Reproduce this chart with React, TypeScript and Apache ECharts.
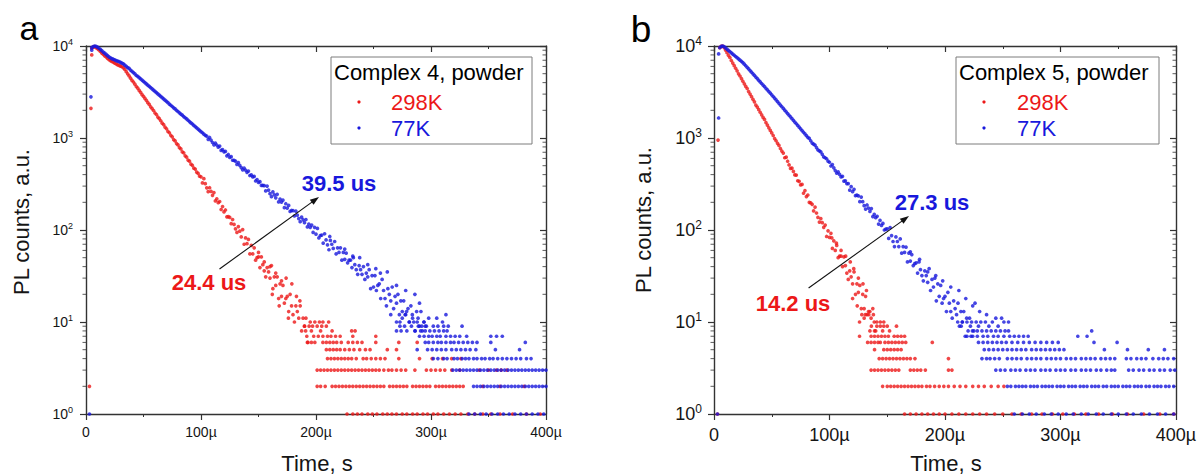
import React, { useEffect, useRef } from "react";
import * as echarts from "echarts";

// ---------------- data ----------------
// decay arrays: counts in consecutive 1.25 µs bins starting at T0 µs
const T0 = 5;
const STEP = 1.25;

const xTickValues = [0, 100, 200, 300, 400];
const yTickExps = [0, 1, 2, 3, 4];
const minorLogTicks = [
  2, 3, 4, 5, 6, 7, 8, 9, 20, 30, 40, 50, 60, 70, 80, 90, 200, 300, 400, 500, 600, 700, 800, 900,
  2000, 3000, 4000, 5000, 6000, 7000, 8000, 9000,
];

const panelLetters = ["a", "b"];
const legendTitles = ["Complex 4, powder", "Complex 5, powder"];
const seriesNames = ["298K", "77K"];
const redLifetimes = ["24.4 us", "14.2 us"];
const blueLifetimes = ["39.5 us", "27.3 us"];

// Complex 4, 298K
const redA = [
  9450, 9700, 9820, 9600, 9330, 9050, 8720, 8380, 8120, 7830, 7620, 7330, 7120, 6950, 6790, 6660, 6510, 6370, 6240, 6170,
  6030, 5950, 5790, 5560, 5260, 4980, 4730, 4470, 4230, 4060, 3850, 3630, 3480, 3290, 3140, 2960, 2840, 2690, 2570, 2420,
  2320, 2180, 2090, 1990, 1870, 1800, 1690, 1620, 1540, 1450, 1400, 1310, 1260, 1180, 1140, 1070, 1030, 960, 930, 870,
  840, 785, 760, 705, 690, 640, 620, 575, 560, 520, 505, 470, 460, 425, 412, 385,
  378, 325, 361, 319, 287, 261, 288, 263, 238, 255, 207, 218, 198, 204, 167, 180, 157, 165, 139, 140,
  137, 117, 130, 115, 103, 94, 109, 97, 84, 101, 70, 82, 71, 79, 55, 68, 55, 64, 47, 50,
  51, 39, 51, 42, 36, 31, 39, 35, 30, 41, 23, 31, 25, 31, 18, 26, 19, 25, 16, 18,
  19, 13, 20, 15, 12, 10, 15, 13, 11, 15, 8, 11, 9, 11, 6,
];
// Complex 4, 77K
const blueA = [
  9600, 9850, 10000, 9900, 9700, 9450, 9200, 8900, 8600, 8350, 8100, 7850, 7600, 7450, 7300, 7180, 7050, 6950, 6850, 6750,
  6650, 6520, 6400,
  6200, 6010, 5830, 5700, 5470, 5300, 5140, 4980, 4780, 4680, 4530, 4390, 4260, 4120, 4000, 3870, 3750, 3640, 3530, 3420,
  3310, 3210, 3110, 3010, 2920, 2830, 2740, 2660, 2580, 2500, 2420, 2340, 2270, 2200, 2130, 2070, 2000, 1940, 1880, 1820,
  1770, 1710, 1660, 1610, 1560, 1510, 1460, 1420, 1370, 1330, 1290, 1250, 1210, 1170, 1140, 1100, 1070,
  1050, 967, 1013, 948, 893, 844, 882, 839, 795, 818, 733, 747, 708, 714, 640, 662, 615, 627, 573, 570,
  561, 516, 540, 505, 477, 451, 471, 448, 424, 437, 391, 398, 377, 382, 341, 353, 329, 335, 305, 305,
  303, 266, 300, 271, 248, 230, 259, 241, 224, 244, 202, 217, 201, 211, 175, 193, 173, 185, 159, 163,
  162, 142, 160, 145, 133, 123, 138, 129, 120, 130, 108, 116, 107, 113, 94, 107, 90, 104, 82, 87,
  88, 72, 91, 78, 69, 61, 77, 70, 63, 75, 55, 64, 57, 64, 47, 57, 48, 56, 44, 47,
  47, 39, 50, 42, 37, 33, 41, 37, 33, 40, 29, 34, 31, 37, 23, 32, 24, 32, 22, 25,
  26, 18, 29, 22, 18, 15, 23, 20, 17, 24, 14, 19, 16, 20, 12, 17, 13, 17, 12, 13,
  14, 10, 15, 12, 10, 8, 13, 11, 9, 13, 8, 10, 9,
];
// Complex 5, 298K
const redB = [
  9600, 9900, 10000, 9620, 9020, 8450, 7920, 7500, 6960, 6520, 6110, 5730, 5370, 4980, 4720, 4420, 4140, 3880, 3640, 3450,
  3200, 3000, 2810, 2630, 2470, 2280, 2170, 2030, 1905, 1785, 1675, 1590, 1470, 1380, 1290, 1210, 1135, 1064, 985, 934,
  876, 830, 769, 721,
  685, 610, 619, 559, 510, 467, 471, 433, 397, 395, 343, 338, 309, 313, 251, 268, 231, 240, 200, 197,
  190, 161, 177, 153, 137, 122, 133, 120, 107, 113, 85, 98, 83, 92, 63, 76, 60, 68, 50, 52,
  52, 40, 51, 41, 34, 29, 36, 31, 26, 35, 20, 26, 21, 25, 14, 20, 14, 19, 12, 13,
  13, 9, 14, 10, 8,
];
// Complex 5, 77K
const blueB = [
  9600, 9900, 10000, 9820, 9520, 9240, 8960, 8690, 8430, 8180, 7930, 7690, 7460, 7240, 7020, 6810, 6610,
  6350, 6100, 5860, 5630, 5400, 5190, 4980, 4790, 4600, 4420, 4240, 4070, 3910, 3760, 3610, 3470, 3330, 3200, 3075,
  2947, 2824, 2706, 2593, 2485, 2382, 2282, 2187, 2096, 2009, 1925, 1845, 1768, 1694, 1623, 1556, 1491, 1429, 1369, 1312,
  1257, 1205, 1155, 1107, 1060, 1016, 990, 933, 880, 857, 835, 787, 742, 723, 705, 664, 622, 610, 595, 560,
  545, 496, 514, 474, 443, 414, 428, 402, 377, 383, 339, 342, 320, 320, 271, 296, 261, 277, 236, 239,
  235, 203, 228, 203, 184, 169, 187, 173, 159, 171, 140, 148, 136, 141, 116, 127, 112, 118, 100, 102,
  103, 81, 106, 87, 75, 66, 84, 75, 66, 80, 56, 66, 57, 65, 45, 56, 46, 54, 41, 43,
  44, 34, 45, 37, 32, 28, 36, 32, 27, 38, 22, 29, 24, 30, 17, 26, 19, 25, 16, 18,
  19, 13, 21, 16, 13, 11, 17, 14, 12, 16, 9, 13, 10, 13, 7, 11, 8, 11, 7, 8, 8,
];

// isolated points [time µs, counts]
const redAExtra = [
  [5, 8000], [4.3, 2100], [150, 57], [155, 45], [160, 40], [165, 34], [170, 28], [174, 30], [179, 26], [183, 19],
  [186, 17], [162, 20], [168, 15], [176, 11],
];
const blueAExtra = [
  [5, 9000], [4.3, 2800], [212, 85], [225, 62], [232, 52], [238, 50], [245, 42], [252, 38], [256, 34], [262, 35],
  [270, 25], [278, 22], [286, 20], [290, 16], [265, 12], [275, 11],
];
const redBExtra = [
  [3.5, 950], [102, 82], [106, 72], [110, 60], [114, 52], [118, 45], [121, 38], [125, 30], [129, 26], [132, 22],
  [120, 18], [124, 15],
];
const blueBExtra = [
  [4, 8200], [4, 1650], [170, 58], [178, 48], [185, 35], [192, 32], [198, 28], [205, 24], [212, 22], [218, 18],
  [224, 15], [226, 16], [230, 13], [236, 12], [244, 11], [249, 11],
];

// low-count tails: [counts level, times µs]
const redATail: [number, number[]][] = [
  [10, [195, 199, 203, 206, 211]],
  [9, [190, 194, 197, 201, 205, 209]],
  [8, [191, 196, 204, 214, 231, 234]],
  [7, [192, 198, 202, 206, 210, 213, 217, 221, 232, 252]],
  [6, [193, 196, 199, 206, 209, 212, 215, 218, 222, 228, 232, 236, 240, 252, 272, 288]],
  [5, [209, 212, 215, 218, 221, 225, 229, 233, 238, 243, 247, 262, 270]],
  [4, [210, 213, 216, 219, 222, 225, 228, 231, 235, 241, 244, 248, 252, 256, 260, 272, 290, 301, 310, 318, 326]],
  [3, [201, 204, 207, 210, 213, 216, 219, 222, 225, 228, 231, 234, 237, 240, 243, 246, 249, 252, 255, 259, 263, 266, 270,
    274, 278, 286, 296, 300, 304, 308, 312, 318, 325, 342, 350, 357, 361, 366]],
  [2, [3, 201, 204, 208, 214, 217, 220, 223, 226, 229, 232, 235, 238, 241, 244, 247, 250, 253, 256, 259, 264, 267, 270, 273,
    276, 279, 284, 287, 290, 293, 296, 299, 304, 307, 310, 313, 316, 319, 322, 325, 328, 345, 360, 381]],
  [1, [227, 232, 236, 240, 245, 249, 253, 258, 262, 266, 270, 275, 279, 284, 288, 293, 297, 302, 306, 311, 316, 321, 326,
    332, 338, 345, 352, 360, 371, 383, 395]],
];
const blueATail: [number, number[]][] = [
  [12, [278, 313]],
  [11, [284, 298, 305]],
  [10, [270, 273, 281, 288, 294, 310]],
  [9, [273, 277, 283, 289, 292, 296, 302, 306, 311, 315, 327]],
  [8, [270, 274, 279, 286, 291, 295, 299, 303, 307, 311, 314]],
  [7, [290, 294, 298, 301, 305, 308, 313, 317, 321, 325, 331, 352, 357, 362]],
  [6, [295, 298, 302, 306, 309, 313, 317, 320, 324, 328, 332, 336, 340, 352, 382]],
  [5, [288, 297, 301, 305, 309, 313, 318, 322, 326, 330, 334, 339, 356, 377]],
  [4, [302, 306, 311, 314, 320, 323, 327, 330, 333, 337, 340, 344, 347, 351, 354, 358, 362, 366, 370, 374, 378, 383, 387]],
  [3, [319, 322, 325, 328, 331, 334, 337, 340, 343, 346, 349, 352, 355, 358, 361, 364, 367, 370, 373, 376, 379, 382, 385,
    388, 391, 394, 397, 400]],
  [2, [337, 340, 343, 346, 349, 352, 355, 358, 361, 364, 367, 370, 373, 376, 379, 382, 385, 388, 391, 394, 397, 400]],
  [1, [3, 333, 338, 343, 348, 353, 358, 363, 368, 373, 378, 383, 388, 393, 398]],
];
const redBTail: [number, number[]][] = [
  [12, [128, 131, 134, 138]],
  [11, [130, 136]],
  [10, [126, 141, 144, 147]],
  [9, [141, 144, 147, 150, 158]],
  [8, [135, 139, 146, 152]],
  [7, [126, 136, 139, 142, 145, 148, 151, 156, 159, 162, 165]],
  [6, [133, 136, 139, 142, 144, 148, 151, 154, 157, 160, 163, 166, 189]],
  [5, [139, 147, 150, 153, 156, 159, 162]],
  [4, [143, 146, 149, 152, 155, 158, 161, 164, 167, 170, 174, 203]],
  [3, [136, 139, 142, 145, 148, 151, 154, 157, 160, 170, 173, 176, 179, 183, 203, 206]],
  [2, [146, 150, 153, 156, 159, 162, 165, 168, 171, 174, 177, 180, 184, 187, 191, 195, 199, 203, 208, 213, 218, 224, 229,
    234, 240, 246, 251]],
  [1, [3, 165, 170, 175, 180, 185, 190, 195, 200, 206, 212, 218, 224, 230, 236, 243, 250, 258, 266, 275, 284, 293, 302,
    312, 322, 333, 345, 358, 372, 386, 398]],
];
const blueBTail: [number, number[]][] = [
  [10, [211, 215, 219, 223, 227, 231, 235, 241, 251, 255]],
  [9, [214, 222, 229, 238, 246]],
  [8, [228, 232, 236, 240, 244, 248, 252, 255, 327]],
  [7, [219, 224, 228, 233, 237, 242, 246, 251, 256, 260, 264, 268, 272, 315, 323]],
  [6, [229, 233, 237, 241, 245, 249, 253, 258, 263, 268, 273, 278, 283, 288, 293, 298, 329, 349]],
  [5, [234, 238, 242, 246, 250, 254, 258, 262, 266, 270, 275, 279, 283, 287, 291, 295, 299, 303, 338, 358, 376, 390]],
  [4, [232, 236, 239, 243, 247, 254, 258, 262, 266, 271, 275, 279, 283, 288, 292, 296, 300, 305, 309, 313, 318, 322, 326,
    330, 335, 339, 343, 347, 357, 361, 366, 370, 374, 380, 385, 389, 393, 398]],
  [3, [244, 248, 252, 257, 261, 265, 270, 274, 278, 283, 287, 291, 296, 300, 304, 309, 313, 318, 322, 326, 331, 335, 340,
    344, 347, 359, 363, 368, 372, 377, 381, 386, 390, 395, 399]],
  [2, [254, 257, 261, 264, 267, 270, 274, 277, 280, 284, 287, 290, 293, 297, 300, 303, 307, 310, 313, 317, 320, 323, 327,
    330, 333, 337, 340, 344, 347, 350, 354, 357, 360, 364, 367, 370, 374, 377, 381, 384, 387, 391, 394, 398]],
  [1, [3, 260, 267, 273, 279, 286, 292, 298, 305, 311, 318, 324, 331, 337, 344, 350, 357, 363, 370, 377, 384, 391, 398]],
];

// ---------------- styling / layout ----------------
const FONT = '"Liberation Sans", Arial, Helvetica, sans-serif';
const RED = "#ec1818";
const BLUE = "#1818dc";
const AX = "#333333";
const TXT = "#151515";
const GRID_TOP = 46;
const GRID_H = 368;
const DOT = 3.7;

const LAYOUT = [
  {
    left: 86, width: 460, tickFont: 14, supFont: 9, supPad: 8, yMargin: 13, xMargin: 11,
    letter: { x: 29, y: 28, size: 34 },
    yTitle: { x: 21, y: 222 }, xTitle: { x: 317, y: 463 }, titleFont: 22,
    lg: { x: 331, y: 57, w: 201, h: 87, textX: 334, titleY: 72, dotX: 359, nameX: 391, r1: 102, r2: 128 },
    redLabel: { x: 209, y: 282 }, blueLabel: { x: 339, y: 183 },
    arrow: [219.5, 269, 319, 197],
  },
  {
    left: 714, width: 462, tickFont: 18, supFont: 12, supPad: 10, yMargin: 12, xMargin: 12,
    letter: { x: 641, y: 29, size: 37 },
    yTitle: { x: 643, y: 220 }, xTitle: { x: 946, y: 463 }, titleFont: 22,
    lg: { x: 956, y: 57, w: 203, h: 87, textX: 959, titleY: 72, dotX: 984, nameX: 1017, r1: 102, r2: 128 },
    redLabel: { x: 793, y: 303 }, blueLabel: { x: 932, y: 202 },
    arrow: [808.6, 288, 909, 216],
  },
];

const decay = (arr: number[]) => arr.map((v, i) => [T0 + i * STEP, v]);
const tail = (levels: [number, number[]][]) => levels.flatMap(([n, ts]) => ts.map((t) => [t, n]));

const PANEL_DATA = [
  {
    red: [...decay(redA), ...redAExtra, ...tail(redATail)],
    blue: [...decay(blueA), ...blueAExtra, ...tail(blueATail)],
  },
  {
    red: [...decay(redB), ...redBExtra, ...tail(redBTail)],
    blue: [...decay(blueB), ...blueBExtra, ...tail(blueBTail)],
  },
];

const text = (s: string, x: number, y: number, size: number, color: string, o: any = {}) => ({
  type: "text",
  x,
  y,
  rotation: o.rot || 0,
  z: 100,
  silent: true,
  style: {
    text: s,
    fill: color,
    fontSize: size,
    fontFamily: FONT,
    fontWeight: o.bold ? "bold" : "normal",
    align: o.align || "center",
    verticalAlign: "middle",
    textAlign: o.align || "center",
    textVerticalAlign: "middle",
  },
});

const arrow = (x1: number, y1: number, x2: number, y2: number) => {
  const dx = x2 - x1;
  const dy = y2 - y1;
  const L = Math.hypot(dx, dy);
  const ux = dx / L;
  const uy = dy / L;
  const hl = 9;
  const hw = 3.2;
  const bx = x2 - ux * hl;
  const by = y2 - uy * hl;
  return [
    { type: "line", z: 100, silent: true, shape: { x1, y1, x2: bx + ux * 2, y2: by + uy * 2 }, style: { stroke: "#111", lineWidth: 1.1 } },
    {
      type: "polygon", z: 100, silent: true,
      shape: { points: [[x2, y2], [bx - uy * hw, by + ux * hw], [bx + uy * hw, by - ux * hw]] },
      style: { fill: "#111" },
    },
  ];
};

function buildOption() {
  const xMin = xTickValues[0];
  const xMax = xTickValues[xTickValues.length - 1];
  const xInt = xTickValues[1] - xTickValues[0];
  const yMin = Math.pow(10, yTickExps[0]);
  const yMax = Math.pow(10, yTickExps[yTickExps.length - 1]);

  const grid: any[] = [];
  const xAxis: any[] = [];
  const yAxis: any[] = [];
  const series: any[] = [];
  const elements: any[] = [];

  LAYOUT.forEach((L, p) => {
    grid.push({ left: L.left, top: GRID_TOP, width: L.width, height: GRID_H, containLabel: false, outerBoundsMode: "none" });

    ["bottom", "top"].forEach((pos) => {
      xAxis.push({
        type: "value", gridIndex: p, position: pos, min: xMin, max: xMax, interval: xInt,
        axisLine: { show: true, onZero: false, lineStyle: { color: AX, width: 1.4 } },
        axisTick: { show: true, inside: pos === "top", length: 6, lineStyle: { color: AX, width: 1.2 } },
        minorTick: { show: true, splitNumber: 2, length: 3, lineStyle: { color: AX, width: 1 } },
        splitLine: { show: false },
        minorSplitLine: { show: false },
        axisLabel:
          pos === "bottom"
            ? {
                show: true, margin: L.xMargin, fontSize: L.tickFont, fontFamily: FONT, color: TXT,
                formatter: (v: number) => (v === 0 ? "0" : `${v}µ`),
              }
            : { show: false },
      });
    });

    ["left", "right"].forEach((pos) => {
      yAxis.push({
        type: "log", logBase: 10, gridIndex: p, position: pos, min: yMin, max: yMax,
        axisLine: { show: true, onZero: false, lineStyle: { color: AX, width: 1.4 } },
        axisTick: { show: true, inside: pos === "right", length: 6, lineStyle: { color: AX, width: 1.2 } },
        splitLine: { show: false },
        minorTick: { show: false },
        axisLabel:
          pos === "left"
            ? {
                show: true, margin: L.yMargin, color: TXT, fontFamily: FONT, fontSize: L.tickFont,
                formatter: (v: number) => `{b|10}{s|${Math.round(Math.log10(v))}}`,
                rich: {
                  b: { fontSize: L.tickFont, fontFamily: FONT, color: TXT, verticalAlign: "middle" },
                  s: { fontSize: L.supFont, fontFamily: FONT, color: TXT, verticalAlign: "top", padding: [0, 0, L.supPad, 0] },
                },
              }
            : { show: false },
      });
    });

    const xi = p * 2;
    const yi = p * 2;
    series.push({
      type: "scatter", name: seriesNames[0], xAxisIndex: xi, yAxisIndex: yi, data: PANEL_DATA[p].red,
      symbol: "circle", symbolSize: DOT, itemStyle: { color: RED }, clip: false, silent: true, z: 2,
    });
    series.push({
      type: "scatter", name: seriesNames[1], xAxisIndex: xi, yAxisIndex: yi, data: PANEL_DATA[p].blue,
      symbol: "circle", symbolSize: DOT, itemStyle: { color: BLUE }, clip: false, silent: true, z: 3,
    });
    // log minor ticks (left outward, right inward)
    series.push({
      type: "scatter", xAxisIndex: xi, yAxisIndex: yi, data: minorLogTicks.map((v) => [xMin, v]),
      symbol: "rect", symbolSize: [3.5, 1], symbolOffset: [-1.75, 0], itemStyle: { color: AX }, clip: false, silent: true, z: 1,
    });
    series.push({
      type: "scatter", xAxisIndex: xi, yAxisIndex: yi, data: minorLogTicks.map((v) => [xMax, v]),
      symbol: "rect", symbolSize: [3.5, 1], symbolOffset: [-1.75, 0], itemStyle: { color: AX }, clip: false, silent: true, z: 1,
    });

    // texts
    elements.push(text(panelLetters[p], L.letter.x, L.letter.y, L.letter.size, "#000"));
    elements.push(text("PL counts, a.u.", L.yTitle.x, L.yTitle.y, L.titleFont, TXT, { rot: Math.PI / 2 }));
    elements.push(text("Time, s", L.xTitle.x, L.xTitle.y, L.titleFont, TXT));
    // legend box
    elements.push({
      type: "rect", z: 90, silent: true,
      shape: { x: L.lg.x, y: L.lg.y, width: L.lg.w, height: L.lg.h },
      style: { fill: "#ffffff", stroke: "#7d7d7d", lineWidth: 1 },
    });
    elements.push(text(legendTitles[p], L.lg.textX, L.lg.titleY, 22, "#000", { align: "left" }));
    elements.push({ type: "circle", z: 100, silent: true, shape: { cx: L.lg.dotX, cy: L.lg.r1, r: 1.6 }, style: { fill: RED } });
    elements.push({ type: "circle", z: 100, silent: true, shape: { cx: L.lg.dotX, cy: L.lg.r2, r: 1.6 }, style: { fill: BLUE } });
    elements.push(text(seriesNames[0], L.lg.nameX, L.lg.r1, 22, RED, { align: "left" }));
    elements.push(text(seriesNames[1], L.lg.nameX, L.lg.r2, 22, BLUE, { align: "left" }));
    // lifetime annotations
    elements.push(text(redLifetimes[p], L.redLabel.x, L.redLabel.y, 22, RED, { bold: true }));
    elements.push(text(blueLifetimes[p], L.blueLabel.x, L.blueLabel.y, 22, BLUE, { bold: true }));
    const [ax1, ay1, ax2, ay2] = L.arrow;
    elements.push(...arrow(ax1, ay1, ax2, ay2));
  });

  return {
    animation: false,
    backgroundColor: "#ffffff",
    textStyle: { fontFamily: FONT },
    grid,
    xAxis,
    yAxis,
    series,
    graphic: { elements },
  };
}

export default function App() {
  const ref = useRef<HTMLDivElement>(null);
  useEffect(() => {
    document.body.style.margin = "0";
    if (!ref.current) return;
    const chart = echarts.init(ref.current, undefined, { renderer: "svg" });
    chart.setOption(buildOption() as any);
    return () => {
      chart.dispose();
    };
  }, []);
  return <div ref={ref} style={{ width: 1199, height: 476, background: "#fff" }} />;
}
